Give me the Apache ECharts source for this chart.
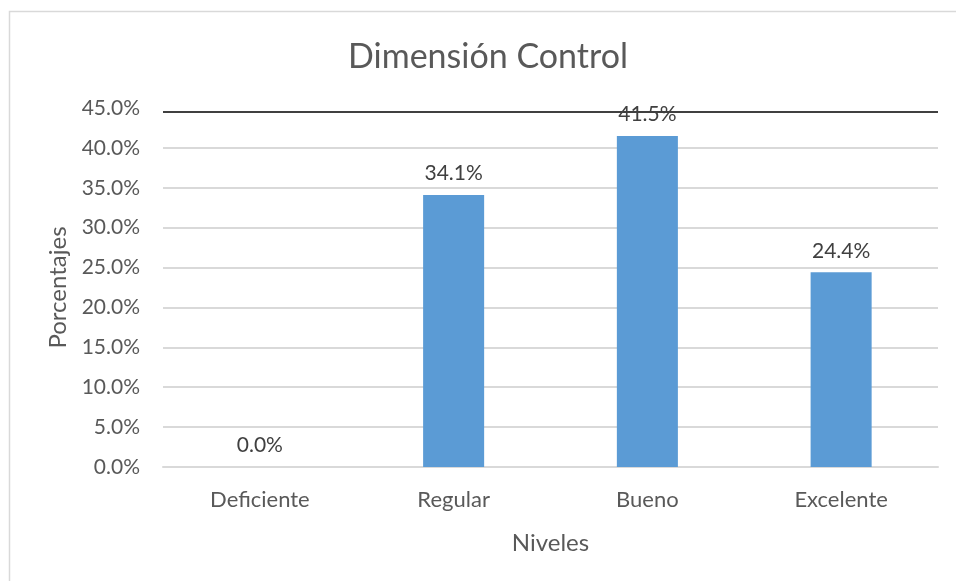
<!DOCTYPE html>
<html>
<head>
<meta charset="utf-8">
<script src="https://cdn.jsdelivr.net/npm/echarts@6/dist/echarts.min.js"></script>
<style>
  html, body { margin: 0; padding: 0; background: #fff; }
  #chart { width: 956px; height: 581px; }
</style>
</head>
<body>
<div id="chart"></div>
<script>
// datos
const niveles = ['Deficiente', 'Regular', 'Bueno', 'Excelente']
const porcentajes = [0.0, 34.1, 41.5, 24.4]

const textColor = '#595959'
const fontFam = 'Lato, "Open Sans", sans-serif'

const myChart = echarts.init(document.getElementById('chart'))

const option = {
  animation: false,
  title: {
    text: 'Dimensión Control',
    left: 343,
    top: 35,
    textStyle: {
      color: textColor,
      fontSize: 34,
      fontWeight: 'normal',
      fontFamily: fontFam
    }
  },
  // borde del grafico
  graphic: [
    {
      type: 'rect',
      left: 7,
      top: 9,
      shape: { width: 960, height: 590 },
      style: { fill: 'none', stroke: '#d9d9d9', lineWidth: 1.5 },
      silent: true
    }
  ],
  grid: {
    left: 163,
    right: 18,
    top: 108,
    bottom: 114
  },
  xAxis: {
    type: 'category',
    data: niveles,
    name: 'Niveles',
    nameLocation: 'middle',
    nameGap: 64,
    nameTextStyle: { color: textColor, fontSize: 24, fontFamily: fontFam },
    axisLine: { lineStyle: { color: '#d9d9d9', width: 2 } },
    axisTick: { show: false },
    axisLabel: {
      color: textColor,
      fontSize: 22,
      margin: 22,
      fontFamily: fontFam
    }
  },
  yAxis: {
    type: 'value',
    min: 0,
    max: 45,
    interval: 5,
    name: 'Porcentajes',
    nameLocation: 'middle',
    nameGap: 93,
    nameTextStyle: { color: textColor, fontSize: 24, fontFamily: fontFam },
    axisLine: { show: false },
    axisTick: { show: false },
    axisLabel: {
      color: textColor,
      fontSize: 21,
      margin: 23,
      fontFamily: fontFam,
      formatter: (v) => v.toFixed(1) + '%'
    },
    splitLine: {
      lineStyle: {
        color: ['#d9d9d9', '#d9d9d9', '#d9d9d9', '#d9d9d9', '#d9d9d9',
          '#d9d9d9', '#d9d9d9', '#d9d9d9', '#d9d9d9', 'rgba(0,0,0,0)'],
        width: 2
      }
    }
  },
  series: [
    {
      type: 'bar',
      data: porcentajes,
      barWidth: '31.5%',
      itemStyle: { color: '#5B9BD5' },
      label: {
        show: true,
        position: 'top',
        distance: 11,
        color: '#404040',
        fontSize: 21,
        fontFamily: fontFam,
        formatter: (p) => p.value.toFixed(1) + '%'
      },
      // linea oscura superior
      markLine: {
        silent: true,
        symbol: 'none',
        z: 10,
        label: { show: false },
        lineStyle: { color: '#404040', type: 'solid', width: 2 },
        data: [{ yAxis: 44.55 }]
      }
    }
  ]
}
myChart.setOption(option)
</script>
</body>
</html>
